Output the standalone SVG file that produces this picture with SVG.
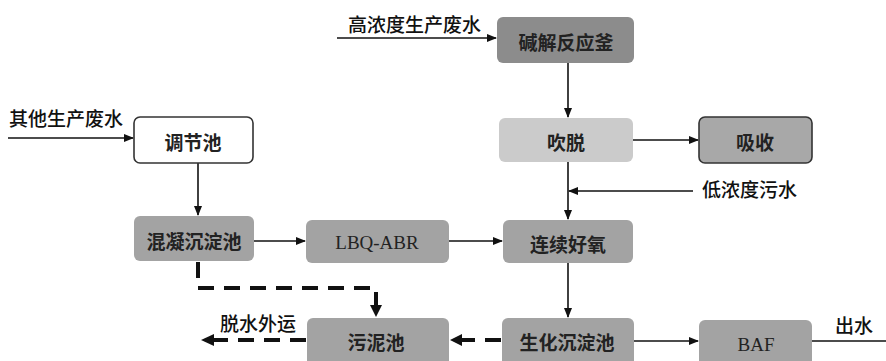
<svg xmlns="http://www.w3.org/2000/svg" width="886" height="361" viewBox="0 0 886 361">
<defs>
<marker id="ah" markerWidth="10" markerHeight="8" refX="9" refY="4" orient="auto" markerUnits="userSpaceOnUse">
<path d="M0,0 L10,4 L0,8 Z" fill="#111"/>
</marker>
<style>
.box{fill:#a3a3a3;stroke:none}
.t{font-family:"Noto Sans CJK SC","Noto Sans",sans-serif;font-size:19px;font-weight:bold;fill:#222;text-anchor:middle;dominant-baseline:central}
.tl{font-family:"Noto Sans CJK SC","Noto Sans",sans-serif;font-size:19px;font-weight:500;fill:#111}
.te{font-family:"Liberation Serif",serif;font-size:19px;fill:#222;text-anchor:middle;dominant-baseline:central}
.ln{stroke:#111;stroke-width:1.6;fill:none}
.dl{stroke:#111;stroke-width:4;fill:none;stroke-dasharray:16 10}
</style>
</defs>
<rect width="886" height="361" fill="#fff"/>
<g id="connectors">
<line class="ln" x1="337" y1="38" x2="496" y2="38" marker-end="url(#ah)"/>
<line class="ln" x1="8" y1="138" x2="133" y2="138" marker-end="url(#ah)"/>
<line class="ln" x1="198" y1="163" x2="198" y2="215" marker-end="url(#ah)"/>
<line class="ln" x1="254" y1="241" x2="305" y2="241" marker-end="url(#ah)"/>
<line class="ln" x1="449" y1="241" x2="502" y2="241" marker-end="url(#ah)"/>
<line class="ln" x1="568" y1="63" x2="568" y2="117" marker-end="url(#ah)"/>
<line class="ln" x1="633" y1="140" x2="698" y2="140" marker-end="url(#ah)"/>
<line class="ln" x1="568" y1="162" x2="568" y2="219" marker-end="url(#ah)"/>
<line class="ln" x1="693" y1="191" x2="569" y2="191" marker-end="url(#ah)"/>
<line class="ln" x1="568" y1="263" x2="568" y2="317" marker-end="url(#ah)"/>
<line class="ln" x1="634" y1="341" x2="698" y2="341" marker-end="url(#ah)"/>
<line class="ln" x1="812" y1="341" x2="886" y2="341"/>
<path class="dl" d="M198,262 V288 H376 V306"/>
<path d="M370,305 L382,305 L376,317 Z" fill="#111"/>
<line class="dl" x1="501" y1="340" x2="462" y2="340"/>
<path d="M462,334 L462,346 L450,340 Z" fill="#111"/>
<line class="dl" x1="306" y1="340" x2="214" y2="340" stroke-dasharray="20 10"/>
<path d="M214,334 L214,346 L201,340 Z" fill="#111"/>
</g>
<g id="label-high"><text class="tl" x="348" y="32">高浓度生产废水</text></g>
<g id="label-other"><text class="tl" x="9" y="126">其他生产废水</text></g>
<g id="label-low"><text class="tl" x="702" y="197">低浓度污水</text></g>
<g id="label-out"><text class="tl" x="835" y="333">出水</text></g>
<g id="label-dewater"><text class="tl" x="220" y="331">脱水外运</text></g>
<g id="n-jianjie"><rect x="497" y="17" width="137" height="46" rx="6" fill="#8c8c8c"/><text class="t" x="566" y="41">碱解反应釜</text></g>
<g id="n-chuitu"><rect x="499" y="118" width="134" height="44" rx="6" fill="#cbcbcb"/><text class="t" x="566" y="141">吹脱</text></g>
<g id="n-xishou"><rect x="699" y="117" width="113" height="46" rx="6" fill="#a8a8a8" stroke="#333" stroke-width="1.6"/><text class="t" x="755" y="141">吸收</text></g>
<g id="n-tiaojie"><rect x="134" y="117" width="119" height="46" rx="6" fill="#fff" stroke="#333" stroke-width="1.6"/><text class="t" x="193" y="141">调节池</text></g>
<g id="n-hunning"><rect class="box" x="134" y="216" width="120" height="45" rx="6"/><text class="t" x="194" y="240">混凝沉淀池</text></g>
<g id="n-lbq"><rect class="box" x="306" y="220" width="143" height="43" rx="6"/><text class="te" x="377" y="242">LBQ-ABR</text></g>
<g id="n-lianxu"><rect class="box" x="503" y="220" width="130" height="43" rx="6"/><text class="t" x="568" y="243">连续好氧</text></g>
<g id="n-wuni"><rect class="box" x="307" y="318" width="142" height="50" rx="6"/><text class="t" x="376" y="341">污泥池</text></g>
<g id="n-shenghua"><rect class="box" x="502" y="318" width="132" height="50" rx="6"/><text class="t" x="567" y="341">生化沉淀池</text></g>
<g id="n-baf"><rect class="box" x="699" y="320" width="113" height="48" rx="6"/><text class="te" x="756" y="344">BAF</text></g>
</svg>
